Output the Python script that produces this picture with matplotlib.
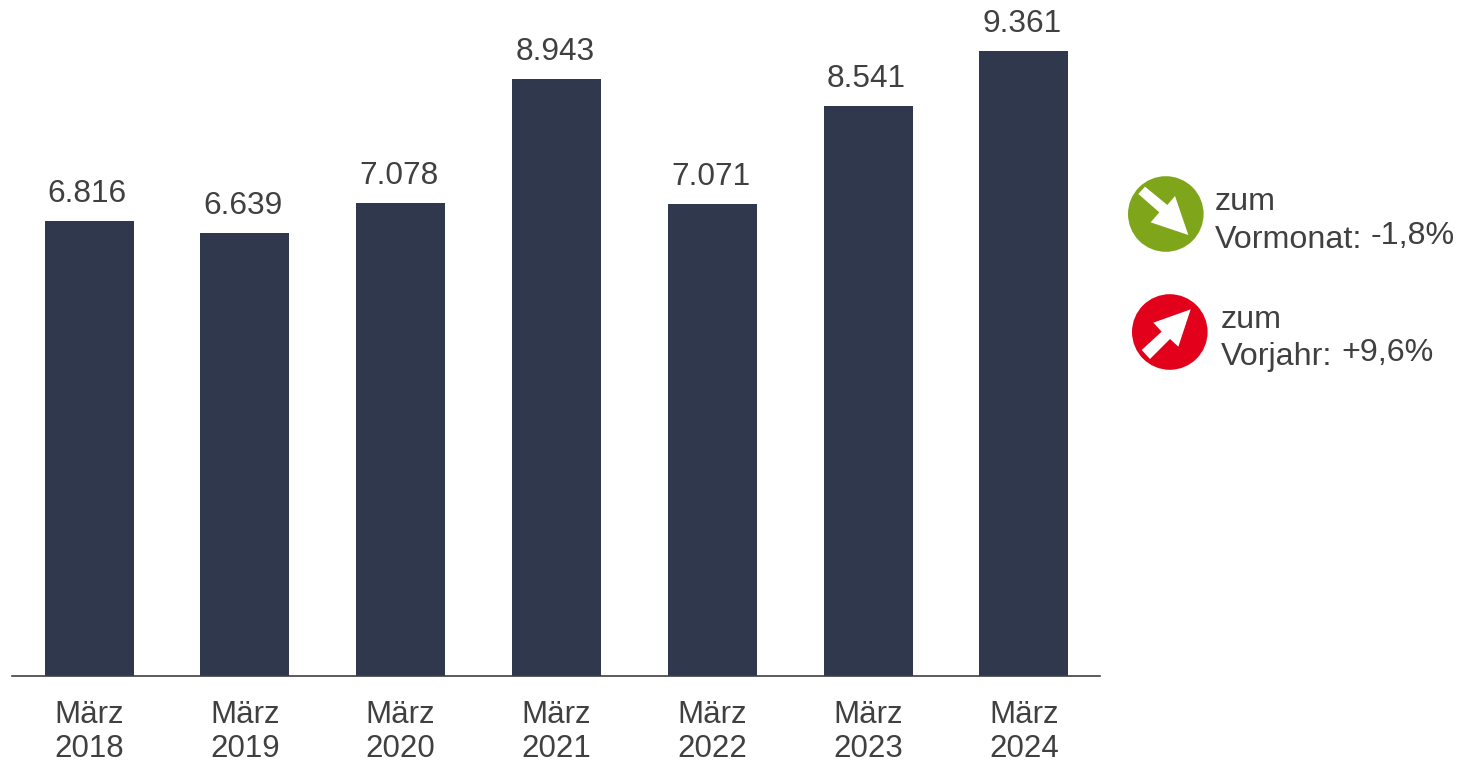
import matplotlib
matplotlib.use("Agg")
import matplotlib.pyplot as plt
from matplotlib.patches import Circle, Polygon

categories = ["März\n2018", "März\n2019", "März\n2020", "März\n2021", "März\n2022", "März\n2023", "März\n2024"]
values = [6816, 6639, 7078, 8943, 7071, 8541, 9361]
labels = ["6.816", "6.639", "7.078", "8.943", "7.071", "8.541", "9.361"]

W, H = 1461, 762
plt.rcParams['font.family'] = ['Liberation Sans', 'DejaVu Sans']
TXT = "#404040"
NAVY = "#30384E"
fig = plt.figure(figsize=(W/100, H/100), dpi=100)

ax = fig.add_axes([12/W, 1-676/H, (1100-12)/W, 676/H])
x = list(range(len(values)))
ax.bar(x, values, width=89/155.8, color=NAVY)
ax.set_xlim((12-89)/155.8, (1100-89)/155.8)
ax.set_ylim(0, 9361*676/(676-50.8))
for s in ["top", "right", "left"]:
    ax.spines[s].set_visible(False)
ax.spines["bottom"].set_color("#404040")
ax.spines["bottom"].set_linewidth(1.2)
ax.set_yticks([])
ax.set_xticks(x)
ax.set_xticklabels(categories, fontsize=22.5, color=TXT, linespacing=1.18)
ax.tick_params(axis="x", length=0, pad=17.4)
for xi, v, l in zip(x, values, labels):
    ax.annotate(l, (xi, v), xytext=(-1.2, 8.6), textcoords="offset points", ha="center", va="bottom",
                fontsize=22.8, color=TXT)

ov = fig.add_axes([0, 0, 1, 1])
ov.set_xlim(0, W); ov.set_ylim(H, 0); ov.axis("off"); ov.patch.set_alpha(0)

def zoomed(pts):
    return [(1110 + px/3, 160 + py/3) for px, py in pts]

ov.add_patch(Circle((1165.8, 214), 37.8, color="#7FA61A", lw=0))
ov.add_patch(Polygon(zoomed([(105, 80), (172, 135), (195, 108), (235, 225), (122, 187), (148, 157), (85, 102)]),
                     closed=True, color="white", lw=0))
ov.add_patch(Circle((1169.8, 332), 37.8, color="#E2001A", lw=0))
ov.add_patch(Polygon(zoomed([(242, 448), (205, 560), (180, 537), (120, 597), (95, 570), (155, 515), (130, 488)]),
                     closed=True, color="white", lw=0))

for tx, ty, s in [(1215, 201.5, "zum"), (1215, 239.5, "Vormonat:"), (1371, 235.5, "-1,8%"),
                  (1221, 319.5, "zum"), (1221, 357.5, "Vorjahr:"), (1341, 353, "+9,6%")]:
    ov.text(tx, ty, s, fontsize=23.2, color=TXT, ha="left", va="center")

fig.savefig("out.png", dpi=100)
